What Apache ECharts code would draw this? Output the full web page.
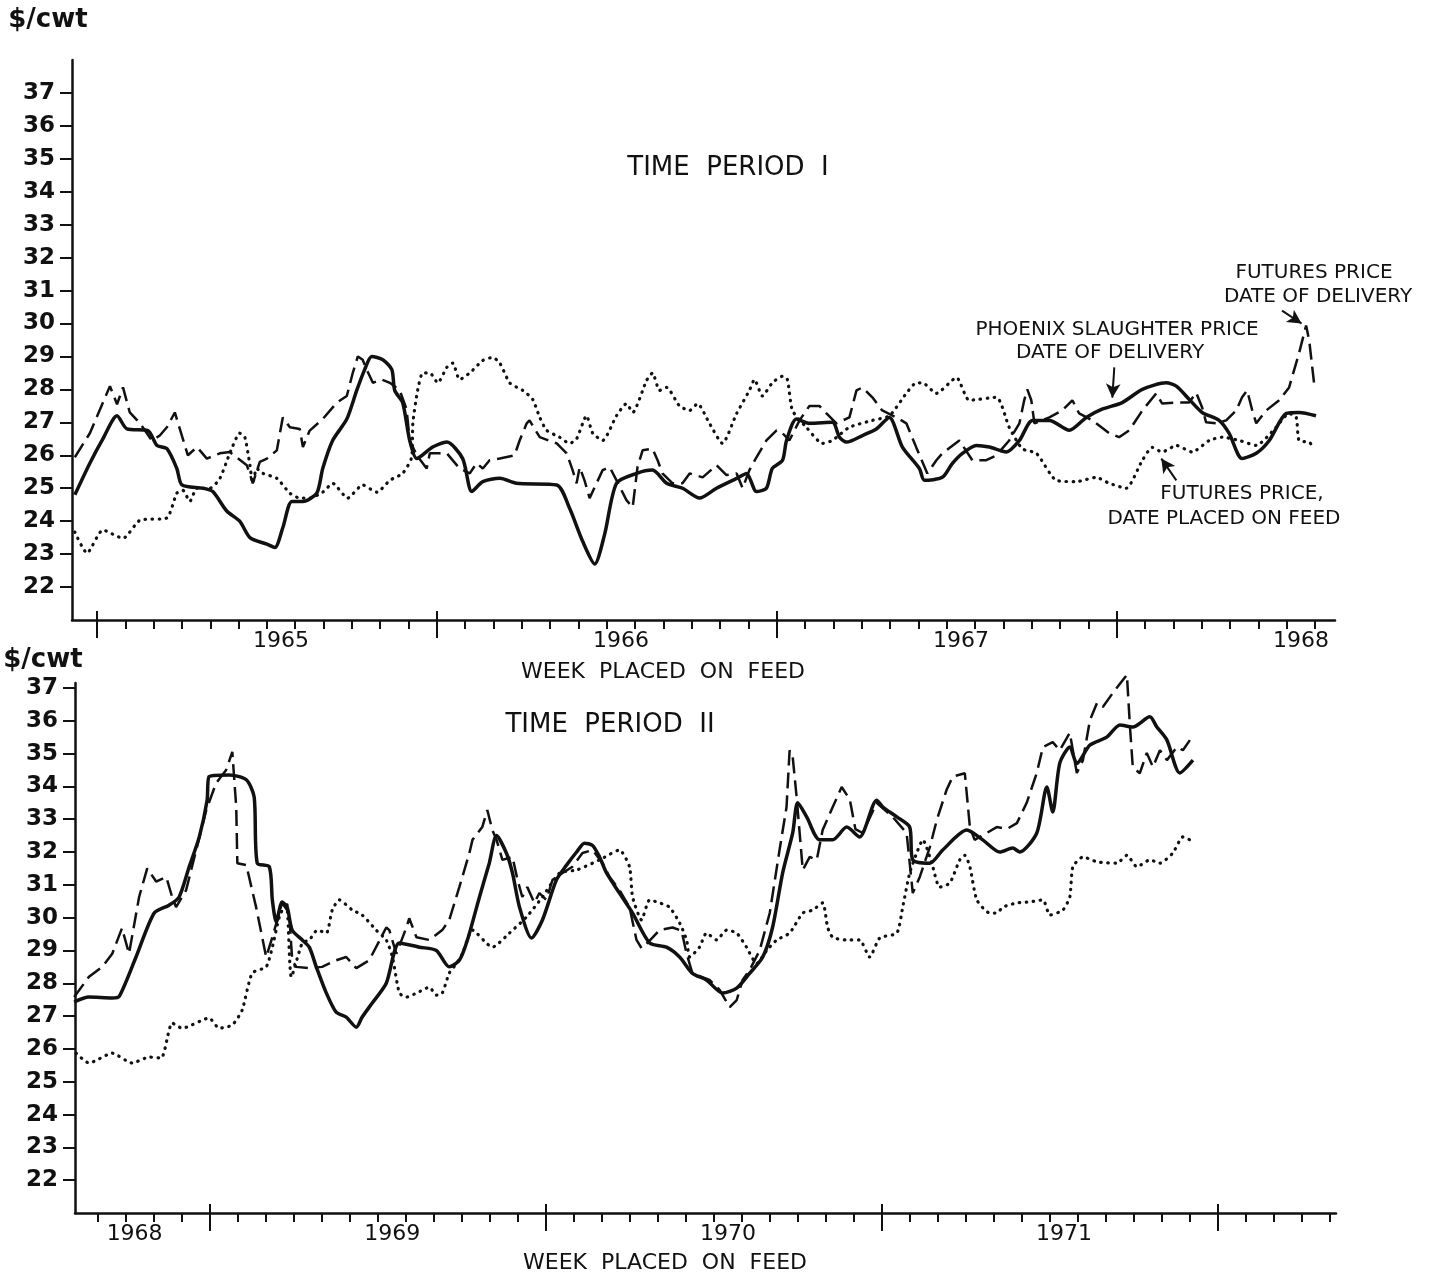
<!DOCTYPE html>
<html>
<head>
<meta charset="utf-8">
<script src="https://cdn.jsdelivr.net/npm/echarts@6/dist/echarts.min.js"></script>
<style>
html,body{margin:0;padding:0;background:#fff;}
#chart{width:1434px;height:1280px;}
</style>
</head>
<body>
<div id="chart"></div>
<script>
// x values: months since Jan 1 of 1965 (period I) / 1969 (period II); y values: $/cwt
const p1Phoenix = [[-0.78,24.8],[-0.25,25.76],[0.21,26.5],[0.71,27.2],[1.06,26.8],[1.80,26.75],[2.12,26.3],[2.47,26.2],[2.82,25.6],[3.00,25.1],[3.74,25.0],[4.09,24.9],[4.59,24.3],[5.04,24.0],[5.40,23.5],[6.00,23.3],[6.28,23.2],[6.56,23.8],[6.88,24.6],[7.27,24.6],[7.76,24.85],[7.97,25.6],[8.32,26.45],[8.82,27.1],[9.17,27.97],[9.45,28.6],[9.70,29.0],[10.09,28.9],[10.41,28.6],[10.51,27.97],[10.79,27.6],[11.04,26.45],[11.29,25.9],[11.85,26.25],[12.35,26.4],[12.91,25.9],[13.23,24.9],[13.62,25.2],[14.22,25.3],[14.81,25.15],[16.23,25.1],[16.68,24.4],[17.14,23.4],[17.57,22.7],[17.92,23.6],[18.34,25.15],[19.05,25.45],[19.61,25.55],[20.11,25.15],[20.67,25.0],[21.27,24.7],[21.87,25.0],[22.58,25.3],[22.93,25.45],[23.28,24.9],[23.63,25.0],[23.84,25.6],[24.20,25.85],[24.34,26.45],[24.69,27.1],[25.15,26.97],[25.96,27.0],[26.21,26.55],[26.46,26.4],[27.02,26.6],[27.51,26.8],[27.97,27.15],[28.43,26.25],[29.03,25.6],[29.21,25.24],[29.84,25.33],[30.19,25.75],[30.55,26.06],[31.04,26.3],[31.50,26.25],[32.10,26.1],[32.56,26.45],[33.02,27.06],[33.62,27.06],[34.32,26.76],[34.92,27.15],[35.48,27.4],[36.19,27.6],[36.90,28.0],[37.74,28.2],[38.10,28.1],[38.55,27.7],[39.01,27.3],[39.61,27.06],[39.96,26.67],[40.42,25.9],[40.92,26.06],[41.38,26.45],[41.98,27.27],[42.43,27.3],[43.03,27.2]];

const p1FutDelivery = [[-0.78,25.94],[-0.25,26.67],[0.46,28.1],[0.71,27.55],[0.92,28.06],[1.16,27.3],[1.52,26.97],[1.94,26.45],[2.22,26.6],[2.47,26.85],[2.75,27.3],[3.21,26.0],[3.53,26.25],[3.88,25.9],[4.34,26.06],[4.69,26.1],[5.29,25.7],[5.47,25.24],[5.50,25.15],[5.75,25.8],[6.00,25.9],[6.35,26.15],[6.56,27.15],[6.81,26.85],[7.16,26.8],[7.27,26.25],[7.51,26.75],[7.97,27.1],[8.47,27.6],[8.82,27.8],[9.03,28.5],[9.21,29.0],[9.38,28.9],[9.52,28.6],[9.74,28.2],[10.05,28.3],[10.34,28.2],[10.69,27.97],[10.93,27.4],[11.04,26.45],[11.29,26.0],[11.64,25.6],[11.75,26.06],[12.35,26.06],[12.80,25.6],[13.16,25.45],[13.40,25.76],[13.62,25.6],[13.86,25.85],[14.22,25.9],[14.74,26.0],[14.92,26.45],[15.17,26.97],[15.27,27.06],[15.63,26.55],[16.23,26.36],[16.58,26.06],[16.79,25.55],[16.93,25.15],[17.04,25.64],[17.21,25.24],[17.39,24.7],[17.85,25.55],[18.10,25.64],[18.34,25.24],[18.69,24.64],[18.91,24.42],[19.08,25.64],[19.26,26.15],[19.61,26.2],[19.79,25.85],[19.96,25.45],[20.32,25.15],[20.67,25.15],[20.92,25.45],[21.38,25.33],[21.87,25.7],[22.22,25.4],[22.58,25.45],[22.79,25.0],[23.03,25.55],[23.28,25.94],[23.63,26.45],[23.99,26.76],[24.20,26.67],[24.44,26.45],[24.80,27.06],[25.15,27.5],[25.50,27.5],[25.75,27.27],[26.10,26.97],[26.56,27.15],[26.81,27.97],[27.02,28.06],[27.37,27.76],[27.72,27.36],[28.22,27.15],[28.57,26.97],[28.92,26.24],[29.31,25.45],[29.63,25.85],[29.84,26.06],[30.44,26.45],[30.90,25.85],[31.39,25.85],[31.75,26.0],[32.20,26.45],[32.56,26.97],[32.73,27.67],[32.84,28.0],[32.98,27.67],[33.09,26.97],[33.62,27.15],[34.07,27.36],[34.43,27.67],[34.67,27.27],[35.13,27.06],[35.73,26.67],[36.08,26.55],[36.44,26.76],[36.90,27.36],[37.39,27.88],[37.60,27.57],[38.10,27.6],[38.55,27.6],[38.80,27.9],[39.01,27.45],[39.15,27.0],[39.51,26.97],[39.86,27.06],[40.21,27.36],[40.42,27.76],[40.60,27.97],[40.78,27.36],[40.92,26.97],[41.27,27.36],[41.73,27.67],[42.08,28.06],[42.43,29.1],[42.68,29.94],[42.79,29.48],[42.96,28.2]];

const p1FutPlaced = [[-0.78,23.67],[-0.35,23.03],[0.21,23.73],[0.92,23.48],[1.52,24.03],[2.47,24.1],[2.82,24.85],[3.03,24.94],[3.28,24.6],[3.53,25.0],[3.99,25.0],[4.34,25.3],[4.69,26.06],[5.04,26.67],[5.22,26.55],[5.40,25.7],[5.50,25.15],[5.64,25.6],[5.86,25.45],[6.35,25.3],[6.81,24.85],[7.16,24.7],[7.51,24.7],[7.97,24.88],[8.32,25.15],[8.85,24.7],[9.38,25.1],[9.88,24.88],[10.34,25.24],[10.79,25.45],[11.11,25.94],[11.15,26.97],[11.32,27.97],[11.50,28.5],[11.75,28.5],[12.03,28.2],[12.35,28.67],[12.56,28.8],[12.80,28.3],[13.16,28.5],[13.62,28.88],[13.97,28.97],[14.22,28.8],[14.57,28.2],[15.03,27.97],[15.38,27.7],[15.63,27.15],[15.87,26.76],[16.33,26.55],[16.68,26.36],[16.93,26.5],[17.28,27.2],[17.50,26.67],[17.85,26.45],[18.34,27.2],[18.69,27.57],[18.91,27.3],[19.40,28.27],[19.61,28.5],[19.86,27.97],[20.11,28.06],[20.56,27.5],[20.92,27.36],[21.20,27.57],[21.62,26.97],[22.08,26.36],[22.58,27.27],[23.03,27.97],[23.21,28.3],[23.49,27.8],[23.84,28.2],[24.20,28.4],[24.37,28.3],[24.55,27.36],[25.04,26.85],[25.61,26.36],[25.96,26.45],[26.56,26.85],[27.37,27.06],[27.97,27.2],[28.57,27.88],[28.92,28.2],[29.14,28.2],[29.63,27.88],[30.34,28.36],[30.79,27.67],[31.75,27.76],[32.20,26.85],[32.66,26.2],[33.16,26.06],[33.86,25.24],[34.57,25.2],[35.27,25.33],[35.73,25.15],[36.33,25.0],[36.90,25.85],[37.25,26.24],[37.60,26.1],[38.10,26.3],[38.66,26.1],[39.26,26.45],[39.72,26.55],[40.32,26.45],[40.92,26.3],[41.62,26.85],[42.08,27.27],[42.33,27.15],[42.43,26.45],[42.79,26.4],[42.96,26.2]];

const p2Phoenix = [[-4.86,27.43],[-4.33,27.58],[-3.50,27.55],[-3.25,27.6],[-2.65,28.8],[-2.00,30.14],[-1.47,30.38],[-1.11,30.63],[-0.75,31.55],[-0.39,32.46],[-0.11,33.58],[-0.04,34.3],[0.68,34.35],[1.29,34.2],[1.57,33.68],[1.68,31.66],[2.11,31.55],[2.22,30.54],[2.36,29.87],[2.57,30.48],[2.75,30.32],[2.93,29.62],[3.29,29.32],[3.54,29.1],[3.79,28.5],[4.15,27.7],[4.50,27.12],[4.86,26.97],[5.22,26.66],[5.43,26.97],[5.79,27.4],[6.29,28.0],[6.76,29.23],[7.47,29.1],[8.08,29.0],[8.54,28.5],[8.90,28.7],[9.19,29.32],[9.62,30.63],[9.97,31.66],[10.23,32.5],[10.58,31.97],[10.80,31.36],[11.05,30.32],[11.48,29.38],[11.87,29.93],[12.37,31.15],[12.73,31.6],[13.09,32.0],[13.37,32.27],[13.66,32.2],[13.91,31.85],[14.16,31.36],[14.62,30.75],[15.09,30.14],[15.70,29.23],[16.30,29.1],[16.77,28.8],[17.23,28.3],[17.73,28.1],[18.31,27.7],[18.81,27.85],[19.27,28.3],[19.74,28.8],[20.09,29.7],[20.45,31.36],[20.81,32.58],[20.99,33.5],[21.31,33.07],[21.77,32.37],[22.24,32.37],[22.74,32.76],[23.20,32.46],[23.81,33.58],[24.03,33.37],[24.53,33.07],[24.99,32.76],[25.10,31.76],[25.71,31.66],[26.17,32.06],[27.03,32.67],[27.60,32.37],[28.21,32.0],[28.67,32.12],[28.92,32.0],[29.53,32.58],[29.89,33.98],[30.10,33.22],[30.35,34.7],[30.71,35.2],[30.96,34.7],[31.43,35.26],[32.03,35.5],[32.50,35.87],[32.96,35.81],[33.57,36.12],[33.82,35.81],[34.18,35.41],[34.64,34.41],[35.11,34.8]];

const p2FutDelivery = [[-4.86,27.58],[-4.33,28.2],[-3.86,28.5],[-3.50,28.9],[-3.15,29.68],[-2.90,28.9],[-2.54,30.63],[-2.25,31.5],[-1.93,31.1],[-1.57,31.24],[-1.36,30.63],[-1.22,30.32],[-0.86,30.84],[-0.50,32.06],[-0.14,33.28],[0.21,34.1],[0.57,34.5],[0.79,35.05],[0.93,33.37],[0.97,31.66],[1.29,31.6],[1.64,30.32],[2.00,28.8],[2.22,29.4],[2.57,30.45],[2.82,30.14],[2.93,28.7],[3.07,28.5],[3.54,28.46],[4.00,28.5],[4.50,28.7],[4.86,28.8],[5.22,28.46],[5.68,28.7],[6.29,29.7],[6.40,29.62],[6.65,28.9],[7.01,29.7],[7.11,29.98],[7.37,29.4],[7.83,29.32],[8.29,29.62],[8.54,29.93],[8.90,30.93],[9.26,31.97],[9.37,32.37],[9.72,32.76],[9.90,33.28],[10.08,32.67],[10.23,32.37],[10.44,31.76],[10.80,31.85],[10.98,31.15],[11.15,30.63],[11.33,30.93],[11.58,30.45],[11.76,30.75],[12.01,30.54],[12.23,31.15],[12.59,31.36],[12.94,31.55],[13.30,31.97],[13.66,32.06],[14.02,31.66],[14.27,31.24],[14.62,30.84],[14.98,30.32],[15.23,29.32],[15.41,29.07],[15.70,29.3],[16.05,29.62],[16.52,29.7],[16.84,29.6],[17.02,28.9],[17.23,28.3],[17.84,28.1],[18.20,27.8],[18.56,27.27],[18.81,27.49],[19.02,28.1],[19.27,28.4],[19.63,29.0],[19.99,30.14],[20.34,32.06],[20.59,33.37],[20.70,35.1],[20.81,34.9],[20.95,33.68],[21.17,31.45],[21.42,31.85],[21.67,31.76],[21.88,32.67],[22.24,33.37],[22.56,33.98],[22.85,33.6],[23.05,32.7],[23.31,32.58],[23.81,33.5],[24.38,33.07],[24.88,32.58],[25.10,30.75],[25.35,31.24],[25.71,32.15],[25.96,32.98],[26.31,33.9],[26.53,34.3],[26.96,34.4],[27.14,32.76],[27.31,32.37],[27.74,32.58],[28.10,32.76],[28.46,32.7],[28.82,32.88],[29.17,33.5],[29.53,34.41],[29.75,35.2],[30.10,35.35],[30.35,35.1],[30.71,35.63],[30.96,34.41],[31.18,34.8],[31.43,36.02],[31.68,36.54],[31.89,36.42],[32.25,36.85],[32.75,37.4],[32.86,35.81],[32.96,34.59],[33.21,34.4],[33.46,35.02],[33.68,34.59],[33.93,35.1],[34.18,34.8],[34.54,35.2],[34.75,35.1],[35.00,35.41]];

const p2FutPlaced = [[-4.79,25.87],[-4.33,25.57],[-3.50,25.87],[-2.79,25.57],[-2.18,25.75],[-1.75,25.72],[-1.36,26.79],[-1.00,26.63],[-0.04,26.94],[0.32,26.63],[0.79,26.73],[1.14,27.18],[1.50,28.31],[2.00,28.5],[2.22,29.1],[2.47,30.02],[2.72,30.48],[2.90,28.19],[3.29,29.23],[3.54,29.32],[3.83,29.62],[4.15,29.53],[4.36,30.23],[4.61,30.54],[5.08,30.23],[5.43,30.08],[5.93,29.62],[6.29,29.32],[6.51,28.8],[6.76,27.7],[7.01,27.58],[7.37,27.7],[7.83,27.88],[8.08,27.64],[8.29,27.7],[8.54,28.31],[8.80,28.6],[9.01,28.9],[9.37,29.62],[10.08,29.1],[10.69,29.53],[11.30,30.02],[11.87,30.63],[12.48,31.36],[13.09,31.45],[13.91,31.76],[14.62,32.06],[14.98,31.55],[15.09,30.63],[15.41,29.93],[15.70,30.54],[16.05,30.45],[16.41,30.32],[16.77,29.84],[17.02,29.32],[17.13,28.8],[17.48,29.1],[17.73,29.53],[18.09,29.32],[18.45,29.62],[18.81,29.53],[19.16,29.1],[19.52,28.6],[19.88,29.0],[20.24,29.32],[20.70,29.53],[21.17,30.14],[21.52,30.23],[21.88,30.45],[22.06,29.7],[22.24,29.4],[22.74,29.32],[23.20,29.32],[23.56,28.8],[23.92,29.38],[24.53,29.53],[24.74,30.32],[24.99,31.36],[25.24,31.97],[25.46,32.37],[25.78,31.66],[26.06,30.93],[26.42,31.05],[26.78,31.76],[26.96,31.9],[27.14,31.55],[27.39,30.54],[27.85,30.14],[28.10,30.14],[28.32,30.32],[28.82,30.45],[29.28,30.48],[29.75,30.54],[30.00,30.08],[30.46,30.23],[30.71,30.63],[30.82,31.55],[31.18,31.85],[31.68,31.7],[32.39,31.66],[32.75,31.9],[33.11,31.55],[33.57,31.76],[33.93,31.66],[34.39,31.97],[34.75,32.46],[35.00,32.37],[35.11,32.27]];

// axis tick values
const yTicks = [22,23,24,25,26,27,28,29,30,31,32,33,34,35,36,37];
const topYears = ['1965','1966','1967','1968'];
const topYearPos = [6.5,18.5,30.5,42.5];
const botYears = ['1968','1969','1970','1971'];
const botYearPos = [-2.7,6.5,18.5,30.5];
const topMonthTicks = []; for (let m = 0; m <= 43; m++) topMonthTicks.push(m);
const botMonthTicks = []; for (let m = -4; m <= 40; m++) botMonthTicks.push(m);
const topYearTicks = [0,12,24,36];
const botYearTicks = [0,12,24,36];

const FONT = 'DejaVu Sans';
const BLACK = '#111';

function xAxesFor(grid, min, max, monthTicks, yearTicks, labelPos, labelTxt) {
  const base = {type:'value', gridIndex:grid, min:min, max:max, position:'bottom', splitLine:{show:false}};
  return [
    Object.assign({}, base, {
      axisLine:{show:true, onZero:false, lineStyle:{color:BLACK, width:2.5}},
      axisTick:{show:true, customValues:monthTicks, length:9, lineStyle:{color:BLACK, width:2}},
      axisLabel:{show:true, customValues:labelPos, margin:10, color:BLACK, fontFamily:FONT, fontSize:22,
        formatter:function(v){ const i = labelPos.indexOf(v); return i>=0 ? labelTxt[i] : ''; }}
    }),
    Object.assign({}, base, {
      axisLine:{show:false, onZero:false},
      axisTick:{show:true, customValues:yearTicks, length:18, lineStyle:{color:BLACK, width:2}},
      axisLabel:{show:false}
    }),
    Object.assign({}, base, {
      axisLine:{show:false, onZero:false},
      axisTick:{show:true, inside:true, customValues:yearTicks, length:9, lineStyle:{color:BLACK, width:2}},
      axisLabel:{show:false}
    })
  ];
}

function yAxisFor(grid, min, max) {
  return {type:'value', gridIndex:grid, min:min, max:max, position:'left', splitLine:{show:false},
    axisLine:{show:true, onZero:false, lineStyle:{color:BLACK, width:2.5}},
    axisTick:{show:true, customValues:yTicks, length:12, lineStyle:{color:BLACK, width:2}},
    axisLabel:{show:true, customValues:yTicks, margin:17, color:BLACK, fontFamily:FONT, fontSize:23, fontWeight:'bold'}
  };
}

function solid(data, xi, yi) {
  return {type:'line', data:data, xAxisIndex:xi, yAxisIndex:yi, showSymbol:false, clip:false, smooth:0.25,
    lineStyle:{color:BLACK, width:3.5}};
}
function dashed(data, xi, yi) {
  return {type:'line', data:data, xAxisIndex:xi, yAxisIndex:yi, showSymbol:false, clip:false, smooth:false,
    lineStyle:{color:BLACK, width:2.5, type:[16,7]}};
}
function dotted(data, xi, yi) {
  return {type:'line', data:data, xAxisIndex:xi, yAxisIndex:yi, showSymbol:false, clip:false, smooth:0.2,
    lineStyle:{color:BLACK, width:3.2, type:[0.5,6.5], cap:'round'}};
}
function arrow(from, to) {
  return {silent:true, symbol:['none','arrow'], symbolSize:[11,14], label:{show:false},
    lineStyle:{color:BLACK, width:2, type:'solid'}, data:[[{coord:from},{coord:to}]]};
}

const sP1 = solid(p1Phoenix, 0, 0);
sP1.markLine = arrow([35.91,28.67],[35.84,27.75]);
const sD1 = dashed(p1FutDelivery, 0, 0);
sD1.markLine = arrow([41.83,30.39],[42.52,30.0]);
const sF1 = dotted(p1FutPlaced, 0, 0);
sF1.markLine = arrow([38.10,25.24],[37.57,25.9]);

function txt(x, y, s, size, weight, align) {
  return {type:'text', x:x, y:y, style:{text:s, fill:BLACK, font:(weight||'normal')+' '+size+'px "'+FONT+'"', textAlign:align||'center', textVerticalAlign:'middle'}};
}

const option = {
  animation:false,
  backgroundColor:'#fff',
  grid:[
    {left:72, top:60, width:1263, height:560},
    {left:75, top:683, width:1261, height:530}
  ],
  xAxis: xAxesFor(0, -0.88, 43.7, topMonthTicks, topYearTicks, topYearPos, topYears)
    .concat(xAxesFor(1, -4.83, 40.22, botMonthTicks, botYearTicks, botYearPos, botYears)),
  yAxis:[yAxisFor(0, 21, 38), yAxisFor(1, 21, 37.15)],
  series:[
    sP1, sD1, sF1,
    solid(p2Phoenix, 3, 1), dashed(p2FutDelivery, 3, 1), dotted(p2FutPlaced, 3, 1)
  ],
  graphic:[
    txt(48, 20, '$/cwt', 26, 'bold'),
    txt(43, 660, '$/cwt', 26, 'bold'),
    txt(728, 168, 'TIME  PERIOD  I', 26),
    txt(610, 725, 'TIME  PERIOD  II', 26),
    txt(663, 672, 'WEEK  PLACED  ON  FEED', 22),
    txt(665, 1263, 'WEEK  PLACED  ON  FEED', 22),
    txt(1314, 273, 'FUTURES PRICE', 20),
    txt(1318, 297, 'DATE OF DELIVERY', 20),
    txt(1117, 330, 'PHOENIX SLAUGHTER PRICE', 20),
    txt(1110, 353, 'DATE OF DELIVERY', 20),
    txt(1242, 494, 'FUTURES PRICE,', 20),
    txt(1224, 519, 'DATE PLACED ON FEED', 20)
  ]
};

const chart = echarts.init(document.getElementById('chart'), null, {renderer:'canvas'});
chart.setOption(option);
</script>
</body>
</html>
